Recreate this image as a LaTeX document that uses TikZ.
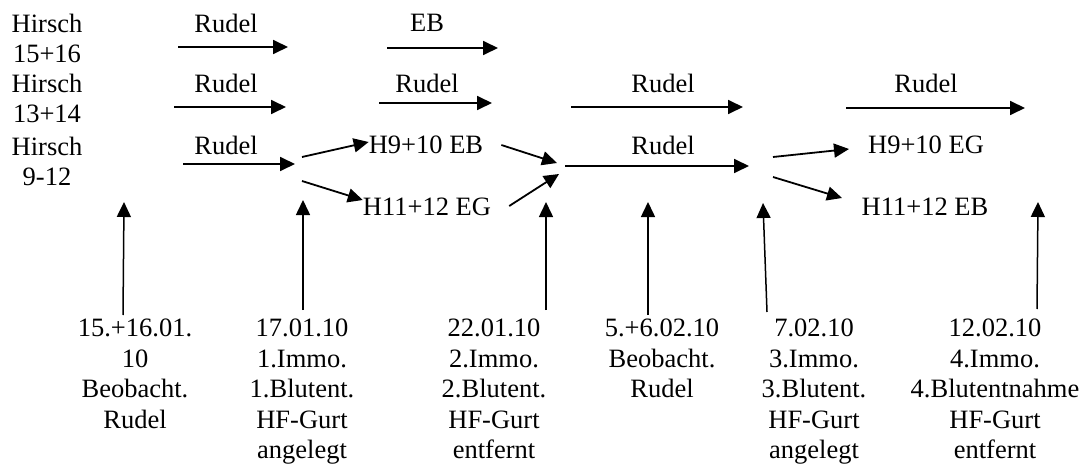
\documentclass[tikz,border=0pt]{standalone}
\usepackage{fontspec}
\setmainfont{Liberation Serif}
\usetikzlibrary{arrows.meta}
\begin{document}
\begin{tikzpicture}[x=1pt,y=-1pt,
  lbl/.style={inner sep=0pt, font=\fontsize{26.5}{30.5}\selectfont},
  blk/.style={lbl, align=center, anchor=north},
  arr/.style={line width=1.8pt, -{Triangle[length=15pt,width=14pt]}},
  uparr/.style={line width=1.5pt, -{Triangle[length=15pt,width=14pt]}}]
\useasboundingbox (0,0) rectangle (1091,465);

% animal groups
\node[blk] (hA) at (47,13.7) {Hirsch\\15+16};
\node[blk] (hB) at (47,73.7) {Hirsch\\13+14};
\node[blk] (hC) at (47,136.5) {Hirsch\\9-12};

% row of stags 15+16
\node[lbl] (rA1) at (226,23) {Rudel};
\coordinate (a1s) at (178,47); \coordinate (a1e) at (288,47);
\draw[arr] (a1s) -- (a1e);
\node[lbl] (rA2) at (427,23) {EB};
\coordinate (a2s) at (387,48); \coordinate (a2e) at (498,48);
\draw[arr] (a2s) -- (a2e);

% row of stags 13+14
\node[lbl] (rB1) at (226,83) {Rudel};
\coordinate (b1s) at (174,107); \coordinate (b1e) at (286,107);
\draw[arr] (b1s) -- (b1e);
\node[lbl] (rB2) at (427,83) {Rudel};
\coordinate (b2s) at (379,103); \coordinate (b2e) at (492,103);
\draw[arr] (b2s) -- (b2e);
\node[lbl] (rB3) at (663,83) {Rudel};
\coordinate (b3s) at (571,107); \coordinate (b3e) at (743,107);
\draw[arr] (b3s) -- (b3e);
\node[lbl] (rB4) at (926,83) {Rudel};
\coordinate (b4s) at (846,108); \coordinate (b4e) at (1025,108);
\draw[arr] (b4s) -- (b4e);

% row of stags 9-12
\node[lbl] (rC1) at (226,145) {Rudel};
\coordinate (c1s) at (183,164); \coordinate (c1e) at (295,164);
\draw[arr] (c1s) -- (c1e);

\node[lbl] (gEB1) at (426,145) {H9+10 EB};
\node[lbl] (gEG1) at (427,207) {H11+12 EG};
\coordinate (sp1a) at (302,157); \coordinate (sp1b) at (302,181);
\draw[arr] (sp1a) -- ([yshift=3pt]gEB1.west);
\draw[arr] (sp1b) -- ([yshift=7pt]gEG1.west);

\coordinate (m1) at (557,163); \coordinate (m2) at (559,174);
\draw[arr] ([xshift=18pt]gEB1.east) -- (m1);
\draw[arr] ([xshift=18pt,yshift=1pt]gEG1.east) -- (m2);

\node[lbl] (rC2) at (663,145) {Rudel};
\coordinate (c2s) at (565,166); \coordinate (c2e) at (749,166);
\draw[arr] (c2s) -- (c2e);

\node[lbl] (gEG2) at (926,145) {H9+10 EG};
\node[lbl] (gEB2) at (925,207) {H11+12 EB};
\coordinate (sp2a) at (773,157); \coordinate (sp2b) at (773,177);
\coordinate (t2a) at (849,149); \coordinate (t2b) at (842,198);
\draw[arr] (sp2a) -- (t2a);
\draw[arr] (sp2b) -- (t2b);

% dated events
\node[blk] (d1) at (135,319) {15.+16.01.\\10\\Beobacht.\\Rudel};
\node[blk] (d2) at (302,319) {17.01.10\\1.Immo.\\1.Blutent.\\HF-Gurt\\angelegt};
\node[blk] (d3) at (494,319) {22.01.10\\2.Immo.\\2.Blutent.\\HF-Gurt\\entfernt};
\node[blk] (d4) at (662,319) {5.+6.02.10\\Beobacht.\\Rudel};
\node[blk] (d5) at (814,319) {7.02.10\\3.Immo.\\3.Blutent.\\HF-Gurt\\angelegt};
\node[blk] (d6) at (995,319) {12.02.10\\4.Immo.\\4.Blutentnahme\\HF-Gurt\\entfernt};

\coordinate (u1s) at (123,315); \coordinate (u1e) at (124,202);
\coordinate (u2s) at (303,310); \coordinate (u2e) at (303,200);
\coordinate (u3s) at (546,310); \coordinate (u3e) at (546,202);
\coordinate (u4s) at (648,315); \coordinate (u4e) at (648,202);
\coordinate (u5s) at (767,312); \coordinate (u5e) at (763,203);
\coordinate (u6s) at (1037,309); \coordinate (u6e) at (1038,202);
\foreach \i in {1,...,6} \draw[uparr] (u\i s) -- (u\i e);
\end{tikzpicture}
\end{document}
